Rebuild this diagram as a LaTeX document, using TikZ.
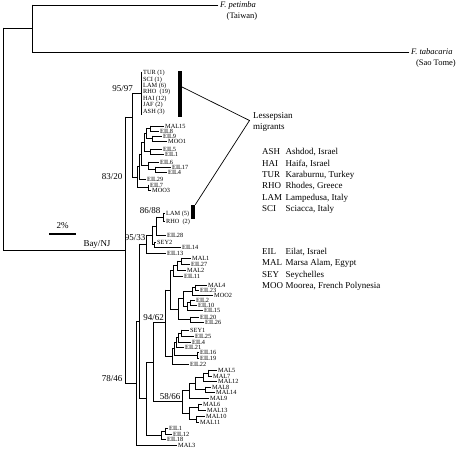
\documentclass[tikz,border=0pt]{standalone}
\usepackage{fontspec}
\setmainfont{Liberation Serif}
\newcommand\leafl[5]{\node[leaf] (#1) at (#4,#3) {#5};\draw[br] (#2,#3) -- ([xshift=-1.5pt]#1.west);}
\newcommand\vseg[3]{\draw[br] (#1,#2) -- (#1,#3);}
\newcommand\hseg[3]{\draw[br] (#1,#3) -- (#2,#3);}
\begin{document}
\begin{tikzpicture}[x=1pt,y=-1pt,
 br/.style={line width=0.6pt, line cap=rect},
 leaf/.style={font=\fontsize{6.3}{7}\selectfont, inner sep=0pt, anchor=west, text height=4.3pt, text depth=0pt},
 lg/.style={font=\fontsize{9}{11}\selectfont, inner sep=0pt, anchor=base west},
 bs/.style={font=\fontsize{9}{11}\selectfont, inner sep=0pt, anchor=base east},
 itl/.style={font=\fontsize{8.5}{10}\selectfont\itshape, inner sep=0pt, anchor=west, text height=6pt, text depth=0pt},
 loc/.style={font=\fontsize{8.5}{10}\selectfont, inner sep=0pt},
 bar/.style={fill=black, inner sep=0pt, minimum width=3.6pt}]
\useasboundingbox (0,0) rectangle (456,449);
% outgroups
\vseg{3}{28}{250}
\hseg{3}{32}{28}
\vseg{32}{5}{52}
\node[itl] (pet) at (220,5) {F. petimba};
\draw[br] (32,5) -- ([xshift=-2pt]pet.west);
\node[loc] (tai) at (242,16) {(Taiwan)};
\node[itl] (tab) at (411,52) {F. tabacaria};
\draw[br] (32,52) -- ([xshift=-2pt]tab.west);
\node[loc, anchor=east] (sao) at (456,63) {(Sao Tome)};
% Bay/NJ
\hseg{3}{125}{250}
\node[lg, anchor=base] (bay) at (97,247) {Bay/NJ};
% scale bar
\draw[line width=1.3pt] (49,234) -- (76,234);
\node[lg, anchor=base] (pct) at (62.5,229) {2\%};
% spine
\vseg{125}{117}{383.2}
% upper clade
\hseg{125}{132}{117}
\vseg{132}{93.5}{177}
\hseg{132}{141}{93.5}
\vseg{141}{72}{115}
\node[bs] (b9597) at (133,91.5) {95/97};
\node[leaf] (tur) at (143,72.5) {TUR (1)};
\node[leaf] (sci) at (143,78.9) {SCI (1)};
\node[leaf] (lam6) at (143,85.3) {LAM (6)};
\node[leaf] (rho19) at (143,91.7) {RHO\ \ (19)};
\node[leaf] (hai) at (143,98.1) {HAI (12)};
\node[leaf] (jaf) at (143,104.5) {JAF (2)};
\node[leaf] (ash) at (143,110.9) {ASH (3)};
\node[bs] (b8320) at (122.5,180) {83/20};
\hseg{132}{137}{177}
\vseg{137}{166.5}{187.5}
\hseg{137}{139}{166.5}
\vseg{139}{154}{179}
\hseg{139}{141}{154}
\leafl{eil29}{139}{179}{147}{EIL29}
\hseg{137}{148}{187.5}
\vseg{148}{185}{190}
\leafl{eil7}{148}{185}{150}{EIL7}
\leafl{moo3}{148}{190}{152}{MOO3}
\vseg{141}{142.5}{165.75}
\hseg{141}{144}{142.5}
\hseg{141}{148}{165.75}
\vseg{144}{133.5}{151.5}
\hseg{144}{146}{133.5}
\hseg{144}{150}{151.5}
\vseg{146}{128.5}{138.5}
\hseg{146}{150}{128.5}
\hseg{146}{152}{138.5}
\vseg{150}{126}{131}
\leafl{mal15}{150}{126}{165}{MAL15}
\leafl{eil8}{150}{131}{160}{EIL8}
\vseg{152}{136}{141}
\leafl{eil9}{152}{136}{163}{EIL9}
\leafl{moo1}{152}{141}{168}{MOO1}
\vseg{150}{149}{154}
\leafl{eil5}{150}{149}{163}{EIL5}
\leafl{eil1a}{150}{154}{165}{EIL1}
\vseg{148}{162}{169.5}
\leafl{eil6}{148}{162}{160}{EIL6}
\hseg{148}{155}{169.5}
\vseg{155}{167}{172}
\leafl{eil17}{155}{167}{172}{EIL17}
\leafl{eil4a}{155}{172}{168}{EIL4}
% lower
\hseg{125}{136}{383.2}
\node[bs] (b7846) at (122.5,382) {78/46};
\vseg{136}{321.3}{445}
\leafl{mal3}{136}{445}{178}{MAL3}
\hseg{136}{139}{321.3}
\vseg{139}{244}{398.6}
\hseg{139}{146}{244}
\node[bs] (b9533) at (145.5,241) {95/33};
\vseg{146}{235.25}{253}
\leafl{eil13}{146}{253}{167}{EIL13}
\hseg{146}{152}{235.25}
\vseg{152}{226}{244.5}
\hseg{152}{154}{244.5}
\vseg{154}{242}{247}
\leafl{sey2}{154}{242}{157}{SEY2}
\leafl{eil14}{154}{247}{182}{EIL14}
\hseg{152}{156}{226}
\vseg{156}{217}{235}
\leafl{eil28}{156}{235}{167}{EIL28}
\hseg{156}{163}{217}
\vseg{163}{213}{221}
\leafl{lam5}{163}{213}{166}{LAM (5)}
\leafl{rho2}{163}{221}{166}{RHO\ \ (2)}
\node[bs] (b8688) at (160.5,214) {86/88};
\hseg{139}{146}{398.6}
\vseg{146}{362.2}{435}
\hseg{146}{161}{435}
\vseg{161}{431}{439}
\leafl{eil18}{161}{439}{167}{EIL18}
\hseg{161}{165}{431}
\vseg{165}{428}{434}
\leafl{eil1b}{165}{428}{169}{EIL1}
\leafl{eil12}{165}{434}{173}{EIL12}
\hseg{146}{153}{362.2}
\vseg{153}{322.6}{401.8}
\hseg{153}{182}{401.8}
\vseg{182}{390.6}{413}
\node[bs] (b5866) at (180.5,399.5) {58/66};
\hseg{182}{189}{390.6}
\vseg{189}{383.25}{398}
\leafl{mal9}{189}{398}{210}{MAL9}
\hseg{189}{195}{383.25}
\vseg{195}{377}{389.5}
\hseg{195}{203}{377}
\vseg{203}{373}{381}
\leafl{mal12}{203}{381}{218}{MAL12}
\hseg{203}{208}{373}
\vseg{208}{370}{376}
\leafl{mal5}{208}{370}{218}{MAL5}
\leafl{mal7}{208}{376}{213}{MAL7}
\hseg{195}{205}{389.5}
\vseg{205}{387}{392}
\leafl{mal8}{205}{387}{212}{MAL8}
\leafl{mal14}{205}{392}{216}{MAL14}
\hseg{182}{189}{413}
\vseg{189}{407}{419}
\hseg{189}{198}{407}
\vseg{198}{404}{410}
\leafl{mal6}{198}{404}{203}{MAL6}
\leafl{mal13}{198}{410}{207}{MAL13}
\hseg{189}{196}{419}
\vseg{196}{416}{422}
\leafl{mal10}{196}{416}{206}{MAL10}
\leafl{mal11}{196}{422}{200}{MAL11}
\hseg{153}{165}{322.6}
\vseg{165}{289.9}{356.3}
\node[bs] (b9462) at (164,320.3) {94/62};
\hseg{165}{170}{289.9}
\vseg{170}{270.75}{309.1}
\hseg{170}{173}{270.75}
\vseg{173}{265.5}{276}
\leafl{eil11}{173}{276}{184}{EIL11}
\hseg{173}{177}{265.5}
\vseg{177}{261}{270}
\leafl{mal2}{177}{270}{187}{MAL2}
\hseg{177}{181}{261}
\vseg{181}{258}{264}
\leafl{mal1}{181}{258}{192}{MAL1}
\leafl{eil27}{181}{264}{191}{EIL27}
\hseg{170}{178}{309.1}
\vseg{178}{298.75}{319.5}
\hseg{178}{183}{298.75}
\vseg{183}{291.25}{306.25}
\hseg{183}{192}{291.25}
\vseg{192}{287.5}{295}
\leafl{moo2}{192}{295}{214}{MOO2}
\hseg{192}{195}{287.5}
\vseg{195}{285}{290}
\leafl{mal4}{195}{285}{208}{MAL4}
\leafl{eil23}{195}{290}{200}{EIL23}
\hseg{183}{187}{306.25}
\vseg{187}{302.5}{310}
\leafl{eil15}{187}{310}{204}{EIL15}
\hseg{187}{190}{302.5}
\vseg{190}{300}{305}
\leafl{eil2}{190}{300}{196}{EIL2}
\leafl{eil10}{190}{305}{198}{EIL10}
\hseg{178}{190}{319.5}
\vseg{190}{317}{322}
\leafl{eil20}{190}{317}{200}{EIL20}
\leafl{eil26}{190}{322}{205}{EIL26}
\hseg{165}{172}{356.3}
\vseg{172}{348.6}{364}
\leafl{eil22}{172}{364}{190}{EIL22}
\hseg{172}{174}{348.6}
\vseg{174}{342.25}{355}
\hseg{174}{176}{342.25}
\vseg{176}{337.5}{347}
\leafl{eil21}{176}{347}{185}{EIL21}
\hseg{176}{178}{337.5}
\vseg{178}{333}{342}
\leafl{eil4b}{178}{342}{192}{EIL4}
\hseg{178}{181}{333}
\vseg{181}{330}{336}
\leafl{sey1}{181}{330}{190}{SEY1}
\leafl{eil25}{181}{336}{195}{EIL25}
\hseg{174}{197}{355}
\vseg{197}{352}{358}
\leafl{eil16}{197}{352}{200}{EIL16}
\leafl{eil19}{197}{358}{200}{EIL19}
% bars and pointers
\node[bar, minimum height=45.5pt] (bar1) at (180,94.25) {};
\node[bar, minimum height=14.5pt, minimum width=4pt] (bar2) at (193,212.25) {};
\coordinate (conv) at (249.5,120.5);
\draw[line width=0.7pt] ([yshift=7.25pt]bar1.east) -- (conv) -- (bar2.north east);
\node[lg] (less) at (253,119) {Lessepsian};
\node[lg] (migr) at (253,130) {migrants};
% legend 1
\node[lg] (k1) at (262,155) {ASH}; \node[lg] (d1) at (285.5,155) {Ashdod, Israel};
\node[lg] (k2) at (262,166.3) {HAI}; \node[lg] (d2) at (285.5,166.3) {Haifa, Israel};
\node[lg] (k3) at (262,177.6) {TUR}; \node[lg] (d3) at (285.5,177.6) {Karaburnu, Turkey};
\node[lg] (k4) at (262,188.9) {RHO}; \node[lg] (d4) at (285.5,188.9) {Rhodes, Greece};
\node[lg] (k5) at (262,200.2) {LAM}; \node[lg] (d5) at (285.5,200.2) {Lampedusa, Italy};
\node[lg] (k6) at (262,211.5) {SCI}; \node[lg] (d6) at (285.5,211.5) {Sciacca, Italy};
% legend 2
\node[lg] (k7) at (262,254.5) {EIL}; \node[lg] (d7) at (285.5,254.5) {Eilat, Israel};
\node[lg] (k8) at (262,265.8) {MAL}; \node[lg] (d8) at (285.5,265.8) {Marsa Alam, Egypt};
\node[lg] (k9) at (262,277.1) {SEY}; \node[lg] (d9) at (285.5,277.1) {Seychelles};
\node[lg] (k10) at (262,288.4) {MOO}; \node[lg] (d10) at (285.5,288.4) {Moorea, French Polynesia};
\end{tikzpicture}
\end{document}
